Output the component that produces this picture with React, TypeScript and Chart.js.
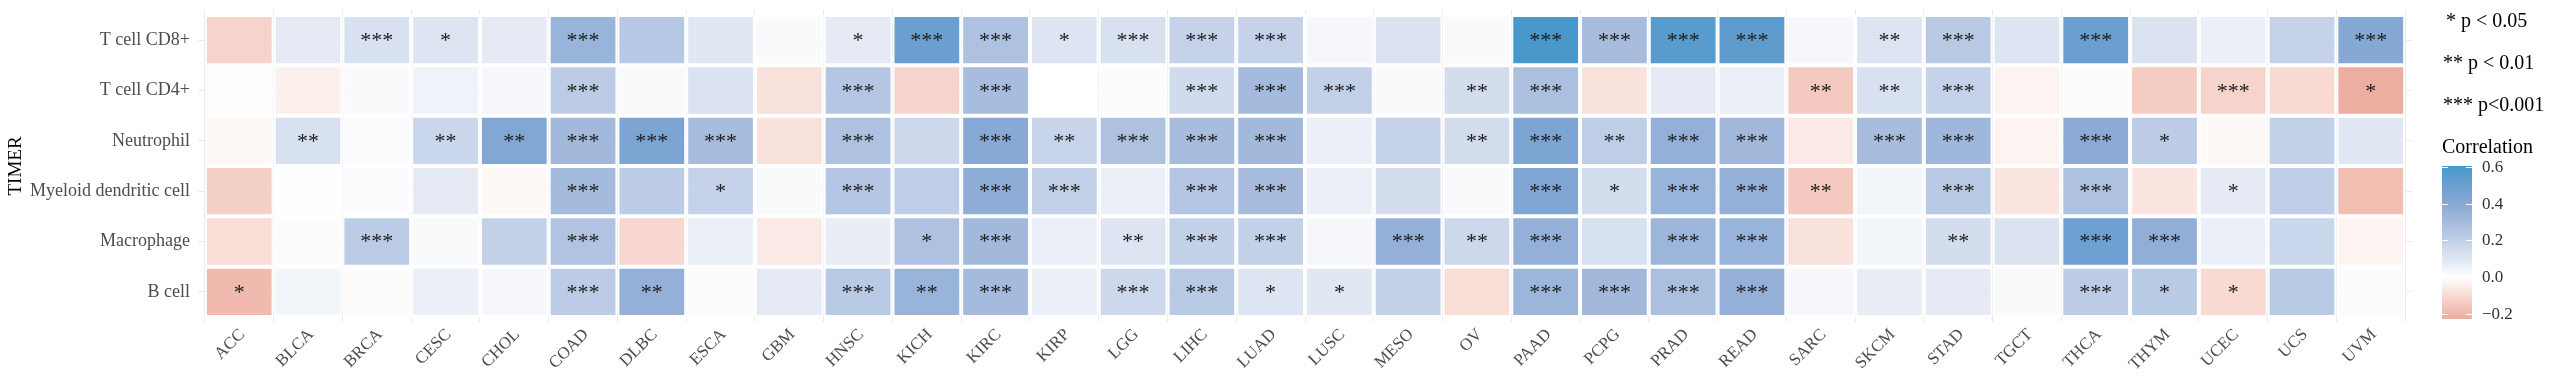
import React, { useEffect, useRef } from 'react';
import { Chart, registerables } from 'chart.js';

Chart.register(...registerables);

const SERIF = '"Liberation Serif", "Times New Roman", Times, serif';

const cancers = [
  'ACC', 'BLCA', 'BRCA', 'CESC', 'CHOL', 'COAD', 'DLBC', 'ESCA', 'GBM', 'HNSC', 'KICH', 'KIRC',
  'KIRP', 'LGG', 'LIHC', 'LUAD', 'LUSC', 'MESO', 'OV', 'PAAD', 'PCPG', 'PRAD', 'READ', 'SARC',
  'SKCM', 'STAD', 'TGCT', 'THCA', 'THYM', 'UCEC', 'UCS', 'UVM',
];

const cellTypes = ['T cell CD8+', 'T cell CD4+', 'Neutrophil', 'Myeloid dendritic cell', 'Macrophage', 'B cell'];

// correlation values, one array per immune cell (row), in cancer order
const cd8 = [-0.12, 0.08, 0.12, 0.10, 0.08, 0.34, 0.24, 0.09, 0.02, 0.08, 0.50, 0.27, 0.10, 0.12, 0.19, 0.19,
  0.03, 0.11, 0.02, 0.607, 0.29, 0.56, 0.54, 0.03, 0.10, 0.23, 0.10, 0.50, 0.11, 0.06, 0.19, 0.41];
const cd4 = [-0.005, -0.04, 0.02, 0.05, 0.03, 0.22, 0.02, 0.11, -0.08, 0.25, -0.12, 0.29, 0.0, -0.01, 0.15, 0.30,
  0.20, 0.02, 0.14, 0.28, -0.08, 0.08, 0.06, -0.15, 0.12, 0.19, -0.03, 0.01, -0.14, -0.12, -0.10, -0.23];
const neutrophil = [-0.02, 0.12, 0.01, 0.17, 0.42, 0.31, 0.44, 0.29, -0.08, 0.27, 0.16, 0.40, 0.18, 0.27, 0.29, 0.31,
  0.06, 0.19, 0.14, 0.44, 0.21, 0.36, 0.31, -0.06, 0.29, 0.32, -0.03, 0.39, 0.22, -0.02, 0.20, 0.09];
const mdc = [-0.13, 0.005, 0.01, 0.08, -0.02, 0.30, 0.22, 0.19, 0.02, 0.25, 0.21, 0.38, 0.20, 0.06, 0.25, 0.29,
  0.06, 0.14, 0.02, 0.43, 0.14, 0.34, 0.36, -0.15, 0.04, 0.23, -0.07, 0.27, -0.07, 0.08, 0.21, -0.18];
const macrophage = [-0.09, 0.01, 0.22, 0.02, 0.20, 0.26, -0.11, 0.06, -0.06, 0.07, 0.27, 0.31, 0.06, 0.10, 0.20, 0.20,
  0.03, 0.36, 0.16, 0.36, 0.12, 0.33, 0.34, -0.08, 0.04, 0.14, 0.11, 0.49, 0.37, 0.06, 0.17, -0.03];
const bcell = [-0.19, 0.04, -0.01, 0.06, 0.03, 0.22, 0.36, -0.01, 0.08, 0.23, 0.34, 0.30, 0.06, 0.16, 0.23, 0.10,
  0.09, 0.20, -0.09, 0.33, 0.31, 0.28, 0.36, 0.03, 0.07, 0.08, 0.02, 0.22, 0.23, -0.10, 0.23, 0.01];

// significance marks
const cd8Sig = ['', '', '***', '*', '', '***', '', '', '', '*', '***', '***', '*', '***', '***', '***',
  '', '', '', '***', '***', '***', '***', '', '**', '***', '', '***', '', '', '', '***'];
const cd4Sig = ['', '', '', '', '', '***', '', '', '', '***', '', '***', '', '', '***', '***',
  '***', '', '**', '***', '', '', '', '**', '**', '***', '', '', '', '***', '', '*'];
const neutrophilSig = ['', '**', '', '**', '**', '***', '***', '***', '', '***', '', '***', '**', '***', '***', '***',
  '', '', '**', '***', '**', '***', '***', '', '***', '***', '', '***', '*', '', '', ''];
const mdcSig = ['', '', '', '', '', '***', '', '*', '', '***', '', '***', '***', '', '***', '***',
  '', '', '', '***', '*', '***', '***', '**', '', '***', '', '***', '', '*', '', ''];
const macrophageSig = ['', '', '***', '', '', '***', '', '', '', '', '*', '***', '', '**', '***', '***',
  '', '***', '**', '***', '', '***', '***', '', '', '**', '', '***', '***', '', '', ''];
const bcellSig = ['*', '', '', '', '', '***', '**', '', '', '***', '**', '***', '', '***', '***', '*',
  '*', '', '', '***', '***', '***', '***', '', '', '', '', '***', '*', '*', '', ''];

const legendLines = ['* p < 0.05', '** p < 0.01', '*** p<0.001'];
const colorbarTicks = [-0.2, 0.0, 0.2, 0.4, 0.6];

// colour ramp (style)
const rampStops: [number, number[]][] = [
  [-0.25, [234, 168, 154]],
  [-0.2, [239, 183, 170]],
  [-0.1, [248, 218, 211]],
  [0, [255, 255, 255]],
  [0.1, [222, 229, 242]],
  [0.2, [194, 208, 232]],
  [0.3, [165, 187, 221]],
  [0.4, [136, 169, 213]],
  [0.5, [107, 159, 208]],
  [0.61, [72, 152, 202]],
];

function colorFor(v: number): string {
  if (v <= rampStops[0][0]) return `rgb(${rampStops[0][1].join(',')})`;
  for (let k = 1; k < rampStops.length; k++) {
    const [v1, c1] = rampStops[k];
    const [v0, c0] = rampStops[k - 1];
    if (v <= v1) {
      const t = (v - v0) / (v1 - v0);
      const c = c0.map((a, j) => Math.round(a + (c1[j] - a) * t));
      return `rgb(${c.join(',')})`;
    }
  }
  return `rgb(${rampStops[rampStops.length - 1][1].join(',')})`;
}

export default function App() {
  const ref = useRef<HTMLCanvasElement>(null);

  useEffect(() => {
    const rows = [cd8, cd4, neutrophil, mdc, macrophage, bcell];
    const sigs = [cd8Sig, cd4Sig, neutrophilSig, mdcSig, macrophageSig, bcellSig];
    const all = rows.flat();
    const vmin = Math.min(...all);
    const vmax = Math.max(...all);

    const datasets = rows.map((vals, r) => ({
      label: cellTypes[r],
      data: vals.map((v, i) => ({ x: i, y: [r - 0.5, r + 0.5], v })),
      backgroundColor: (ctx: any) => colorFor(ctx.raw ? ctx.raw.v : 0),
      borderColor: '#FFFFFF',
      borderWidth: 2,
      borderSkipped: false,
      grouped: false,
      barPercentage: 1,
      categoryPercentage: 1,
      inflateAmount: 0,
    }));

    const overlay = {
      id: 'overlay',
      afterDatasetsDraw(chart: any) {
        const { ctx, scales } = chart;
        ctx.save();
        ctx.fillStyle = '#1A1A1A';
        ctx.font = `22px ${SERIF}`;
        ctx.textAlign = 'center';
        ctx.textBaseline = 'alphabetic';
        sigs.forEach((row, r) => {
          row.forEach((s, i) => {
            if (!s) return;
            const x = scales.x.getPixelForValue(i);
            const y = scales.y.getPixelForValue(r);
            ctx.fillText(s, x, y + 7);
          });
        });
        ctx.restore();
      },
      afterDraw(chart: any) {
        const { ctx, chartArea, scales } = chart;

        // rotated x-axis labels (angle 45, right-justified at the tick)
        ctx.save();
        ctx.fillStyle = '#4D4D4D';
        ctx.font = `17px ${SERIF}`;
        ctx.textAlign = 'right';
        ctx.textBaseline = 'middle';
        cancers.forEach((name, i) => {
          const x = scales.x.getPixelForValue(i);
          ctx.save();
          ctx.translate(x + 3, chartArea.bottom + 10);
          ctx.rotate(-Math.PI / 4);
          ctx.fillText(name, 0, 0);
          ctx.restore();
        });
        ctx.restore();

        const lx = chartArea.right + 31;
        ctx.save();
        ctx.fillStyle = '#000000';
        ctx.font = `20px ${SERIF}`;
        ctx.textAlign = 'left';
        ctx.textBaseline = 'middle';
        legendLines.forEach((t, k) => {
          ctx.fillText(t, lx + (k === 0 ? 3 : 0), 22 + k * 42);
        });
        ctx.fillText('Correlation', lx - 1, 148);

        // colour bar
        const bx = lx - 1;
        const bw = 30;
        const top = 166;
        const bottom = 319;
        const yOf = (v: number) => bottom - ((v - vmin) / (vmax - vmin)) * (bottom - top);
        const grad = ctx.createLinearGradient(0, bottom, 0, top);
        const n = 40;
        for (let k = 0; k <= n; k++) {
          const v = vmin + ((vmax - vmin) * k) / n;
          grad.addColorStop(k / n, colorFor(v));
        }
        ctx.fillStyle = grad;
        ctx.fillRect(bx, top, bw, bottom - top);
        ctx.strokeStyle = '#FFFFFF';
        ctx.lineWidth = 1;
        ctx.fillStyle = '#333333';
        ctx.font = `17px ${SERIF}`;
        colorbarTicks.forEach((t) => {
          const y = Math.round(yOf(t)) + 0.5;
          ctx.beginPath();
          ctx.moveTo(bx, y);
          ctx.lineTo(bx + 6, y);
          ctx.moveTo(bx + bw - 6, y);
          ctx.lineTo(bx + bw, y);
          ctx.stroke();
          const label = t < 0 ? '\u2212' + Math.abs(t).toFixed(1) : t.toFixed(1);
          ctx.fillText(label, bx + bw + 10, y);
        });
        ctx.restore();
      },
    };

    const chart = new Chart(ref.current as HTMLCanvasElement, {
      type: 'bar',
      data: { datasets: datasets as any },
      options: {
        animation: false,
        responsive: false,
        devicePixelRatio: 1,
        layout: { padding: { top: 10, right: 148, left: 0, bottom: 0 } },
        plugins: { legend: { display: false }, tooltip: { enabled: false } },
        scales: {
          x: {
            type: 'linear',
            min: -0.6,
            max: cancers.length - 0.4,
            offset: false,
            afterBuildTicks: (scale: any) => {
              scale.ticks = cancers.map((_, i) => ({ value: i }));
            },
            afterFit: (scale: any) => {
              scale.height = 62;
              scale.paddingLeft = 0;
              scale.paddingRight = 0;
            },
            grid: { color: '#EBEBEB', lineWidth: 1, drawTicks: false },
            border: { display: false },
            ticks: { display: false, autoSkip: false },
          },
          y: {
            type: 'linear',
            reverse: true,
            min: -0.6,
            max: cellTypes.length - 0.4,
            afterBuildTicks: (scale: any) => {
              scale.ticks = cellTypes.map((_, i) => ({ value: i }));
            },
            afterFit: (scale: any) => {
              scale.width = 198;
              scale.paddingTop = 0;
              scale.paddingBottom = 0;
            },
            grid: { color: '#EBEBEB', lineWidth: 1, drawTicks: false },
            border: { display: false },
            title: {
              display: true,
              text: 'TIMER',
              color: '#000000',
              font: { family: SERIF, size: 19 },
              padding: { top: 5, bottom: 0 },
            },
            ticks: {
              autoSkip: false,
              padding: 8,
              color: '#4D4D4D',
              font: { family: SERIF, size: 18 },
              callback: (_v: any, i: number) => cellTypes[i],
            },
          },
        },
      },
      plugins: [overlay],
    } as any);

    return () => chart.destroy();
  }, []);

  return (
    <div style={{ position: 'fixed', left: 0, top: 0, width: 2560, height: 384, background: '#FFFFFF' }}>
      <canvas ref={ref} width={2560} height={384} style={{ width: 2560, height: 384, display: 'block' }} />
    </div>
  );
}
